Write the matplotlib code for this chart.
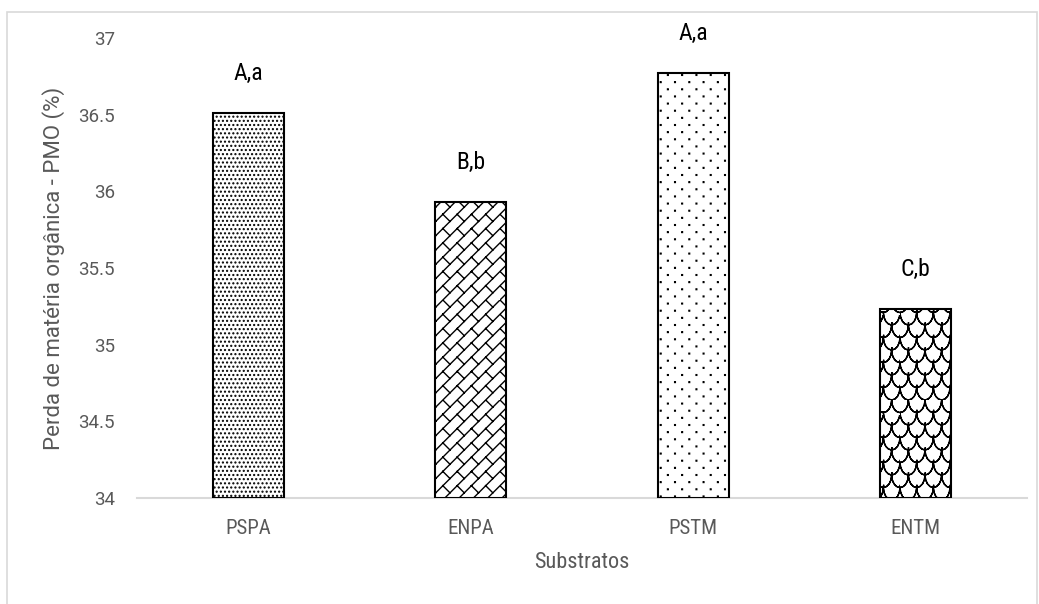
import matplotlib
matplotlib.use("Agg")
import numpy as np
import matplotlib.pyplot as plt
from matplotlib import font_manager as fm
from matplotlib import hatch as mhatch
from matplotlib.path import Path
from matplotlib.patches import Rectangle

# ---------------- data ----------------
categories = ["PSPA", "ENPA", "PSTM", "ENTM"]
values = [36.51, 35.93, 36.77, 35.23]
letters = ["A,a", "B,b", "A,a", "C,b"]
yticks = [34, 34.5, 35, 35.5, 36, 36.5, 37]
ytick_labels = ["34", "34.5", "35", "35.5", "36", "36.5", "37"]
# '*' -> diagonal brick, 'o' -> sparse dots, 'O' -> shingle (custom patterns below)
hatches = ["....", "*", "o", "O"]

# ---------------- fonts ----------------
_fams = {f.name for f in fm.fontManager.ttflist}
def pick(cands, default="DejaVu Sans"):
    for c in cands:
        if c in _fams:
            return c
    return default
NARROW = pick(["Liberation Sans Narrow", "Arial Narrow", "Roboto Condensed",
               "PT Sans Narrow", "Archivo Narrow", "IBM Plex Sans Condensed",
               "Encode Sans Condensed", "Fira Sans Condensed"])
REG = pick(["Roboto", "Open Sans", "Lato"])


# ---------------- custom Excel-like hatch patterns ----------------
class DiagonalBrick(mhatch.HatchPatternBase):
    def __init__(self, hatch, density):
        self.n = 7 * hatch.count('*')
        self.num_vertices = 4 * self.n * self.n if self.n else 0

    def set_vertices_and_codes(self, vertices, codes):
        n = self.n
        s = 1.0 / n
        k = 0
        for i in range(n):
            for j in range(n):
                x0, y0 = i * s, j * s
                vertices[k:k + 4] = [(x0, y0), (x0 + s, y0 + s),
                                     (x0 + 0.5 * s, y0 + 0.5 * s), (x0, y0 + s)]
                codes[k:k + 4] = [Path.MOVETO, Path.LINETO, Path.MOVETO, Path.LINETO]
                k += 4


class SparseDots(mhatch.HatchPatternBase):
    def __init__(self, hatch, density):
        c = hatch.count('o')
        self.nc = 7 * c
        self.nr = 14 * c
        self.num_vertices = 5 * self.nc * self.nr if c else 0

    def set_vertices_and_codes(self, vertices, codes):
        d = 0.0035
        k = 0
        for r in range(self.nr):
            y = (r + 0.5) / self.nr
            off = 0.5 if r % 2 else 0.0
            for c in range(self.nc):
                x = (c + 0.25 + off) / self.nc
                vertices[k:k + 5] = [(x - d, y - d), (x + d, y - d), (x + d, y + d),
                                     (x - d, y + d), (x - d, y - d)]
                codes[k:k + 5] = [Path.MOVETO, Path.LINETO, Path.LINETO,
                                  Path.LINETO, Path.CLOSEPOLY]
                k += 5


class Shingle(mhatch.HatchPatternBase):
    NP = 9
    NV = 2 * NP - 1  # arc traced forward and back -> no filled area

    def __init__(self, hatch, density):
        c = hatch.count('O')
        self.nc = 6 * c
        self.nr = 8 * c
        n_arcs = (self.nr // 2) * (self.nc + (self.nc - 1) + 2)
        self.num_vertices = n_arcs * self.NV if c else 0

    def set_vertices_and_codes(self, vertices, codes):
        NP, NV = self.NP, self.NV
        w = 1.0 / self.nc
        h = 1.0 / self.nr
        k = 0

        def put(cx, ytop, t0, t1):
            nonlocal k
            t = np.linspace(t0, t1, NP)
            pts = np.column_stack([cx + 0.5 * w * np.cos(t), ytop + h * np.sin(t)])
            pts = np.vstack([pts, pts[-2::-1]])
            vertices[k:k + NV] = pts
            codes[k] = Path.MOVETO
            codes[k + 1:k + NV] = Path.LINETO
            k += NV

        for r in range(self.nr):
            ytop = (r + 1) * h
            if r % 2 == 0:
                for c in range(self.nc):
                    put((c + 0.5) * w, ytop, np.pi, 2 * np.pi)
            else:
                for c in range(1, self.nc):
                    put(c * w, ytop, np.pi, 2 * np.pi)
                put(1.0, ytop, np.pi, 1.5 * np.pi)
                put(0.0, ytop, 1.5 * np.pi, 2 * np.pi)


mhatch._hatch_types = [t for t in mhatch._hatch_types
                       if t not in (mhatch.Stars, mhatch.LargeCircles, mhatch.SmallCircles)
                       ] + [DiagonalBrick, SparseDots, Shingle]

# ---------------- figure ----------------
W, H = 1039, 604
fig = plt.figure(figsize=(W / 100, H / 100), dpi=100)
fig.patch.set_facecolor("white")

fig.patches.append(Rectangle((7 / W, -0.05), (1037 - 7) / W, 1 - 12 / H + 0.05,
                             transform=fig.transFigure, fill=False,
                             edgecolor="#d9d9d9", linewidth=1.2))

L, R, B, T = 137.3, 1026.7, 498, 38
ax = fig.add_axes([L / W, 1 - B / H, (R - L) / W, (B - T) / H])

plt.rcParams["hatch.linewidth"] = 1.0
x = np.arange(len(categories))
bars = ax.bar(x, [v - 34 for v in values], bottom=34, width=0.32,
              color="white", edgecolor="black", linewidth=1.5, zorder=3)
for b, h in zip(bars, hatches):
    b.set_hatch(h)

ax.set_xlim(-0.5, len(categories) - 0.5)
ax.set_ylim(34, 37)
ax.set_yticks(yticks)
ax.set_yticklabels(ytick_labels)
ax.set_xticks(x)
ax.set_xticklabels(categories)

for s in ["top", "right", "left"]:
    ax.spines[s].set_visible(False)
ax.spines["bottom"].set_color("#d9d9d9")
ax.spines["bottom"].set_linewidth(1.5)
ax.tick_params(axis="both", length=0)
ax.tick_params(axis="y", pad=16, labelcolor="#595959")
ax.tick_params(axis="x", pad=15, labelcolor="#595959")
for t in ax.get_yticklabels():
    t.set_fontfamily(REG)
    t.set_fontsize(13.5)
for t in ax.get_xticklabels():
    t.set_fontfamily(NARROW)
    t.set_fontsize(15)

ax.set_ylabel("Perda de matéria orgânica - PMO (%)", fontsize=16,
              family=REG, color="#595959")
ax.yaxis.label.set_va("center")
ax.yaxis.set_label_coords((54 - L) / (R - L), 0.5)

ax.set_xlabel("Substratos", fontsize=16, family=NARROW, color="#595959")
ax.xaxis.label.set_va("center")
ax.xaxis.set_label_coords(0.5, -(563 - B) / (B - T))

for xi, v, lab in zip(x, values, letters):
    ax.annotate(lab, (xi, v), xytext=(0, 40 * 72 / 100), textcoords="offset points",
                ha="center", va="center", fontsize=17, family=NARROW, color="black")

fig.savefig("out.png", dpi=100, facecolor="white")
